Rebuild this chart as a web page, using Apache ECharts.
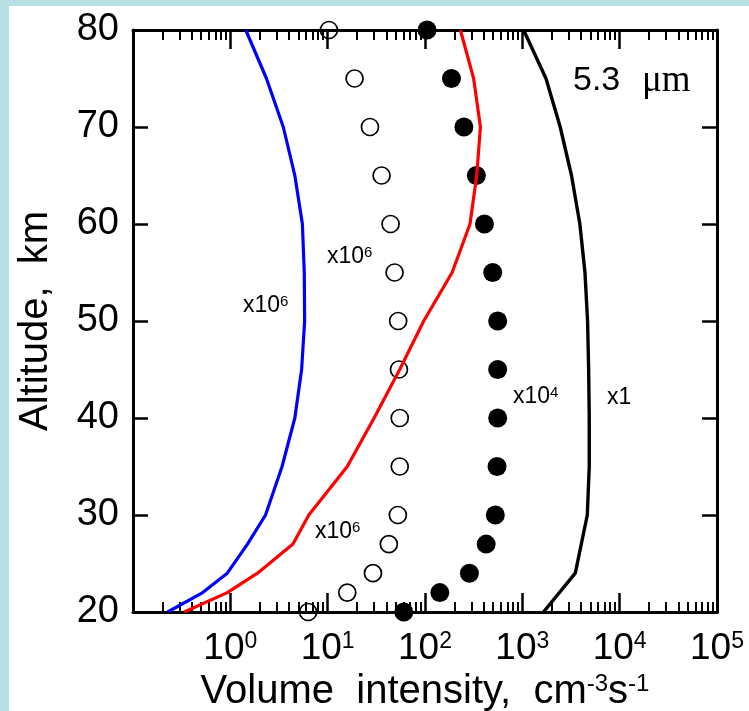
<!DOCTYPE html>
<html><head><meta charset="utf-8">
<script src="https://cdn.jsdelivr.net/npm/echarts@6/dist/echarts.min.js"></script>
<style>html,body{margin:0;padding:0;background:#fff}#c{width:749px;height:711px}</style>
</head><body><div id="c"></div>
<script>
// ---- data (altitude km, volume intensity cm^-3 s^-1) ----
const curveAlts   = [80, 75, 70, 65, 60, 55, 50, 45, 40, 35, 30, 27, 24, 22, 20];
const blueVals    = [1.44, 2.35, 3.5, 4.6, 5.5, 5.75, 5.8, 5.4, 4.6, 3.4, 2.3, 1.5, 0.93, 0.52, 0.227];
const redVals     = [231, 316, 371, 340, 290, 190, 97, 55, 30, 15.9, 6.4, 4.4, 1.9, 0.93, 0.336];
const blackAlts   = [80, 75, 70, 65, 60, 55, 50, 45, 40, 35, 30, 24, 20];
const blackVals   = [1030, 1750, 2450, 3200, 3900, 4400, 4680, 4800, 4870, 4870, 4650, 3500, 1650];
const pointAlts   = [80, 75, 70, 65, 60, 55, 50, 45, 40, 35, 30, 27, 24, 22, 20];
const openVals    = [10.3, 18.9, 27.2, 35.8, 44.3, 48.7, 53, 54, 55, 55, 52.6, 42.5, 29.2, 15.9, 6.3];
const filledVals  = [105, 187, 251, 337, 408, 496, 558, 558, 558, 550, 528, 425, 286, 142, 60.6];
const xLabelExps  = [0, 1, 2, 3, 4, 5];
const xMajorExps  = [-1, 0, 1, 2, 3, 4, 5];

const minorLog = [];
for (let d = -1; d < 5; d++) for (let m = 2; m <= 9; m++) minorLog.push(d + Math.log10(m));

const FONT = '"Liberation Sans", Arial, sans-serif';
const SERIF = '"Liberation Serif", "Times New Roman", serif';
const lineStyleAxis = {color: '#000', width: 3};
const tickMajor = {color: '#000', width: 2.5};
const tickMinor = {color: '#000', width: 2};

const pairs = (vals, alts) => vals.map((v, i) => [v, alts[i]]);

function decoAxis(position, ticks, len, showLine) {
  return {
    type: 'value', min: -1, max: 5, position: position,
    axisLine: {show: showLine, onZero: false, lineStyle: lineStyleAxis},
    axisTick: {inside: true, length: len, customValues: ticks, lineStyle: len > 12 ? tickMajor : tickMinor},
    axisLabel: {show: false}, splitLine: {show: false}
  };
}

const bottomMajor = decoAxis('bottom', xMajorExps, 19, true);
bottomMajor.axisLabel = {
  show: true, customValues: xLabelExps, margin: 18,
  formatter: v => '{b|10}{s|' + v + '}',
  rich: {
    b: {fontSize: 37, fontFamily: FONT, color: '#000'},
    s: {fontSize: 23, fontFamily: FONT, color: '#000', verticalAlign: 'top'}
  }
};
bottomMajor.name = '{a|Volume  intensity,  cm}{s|-3}{a|s}{s|-1}';
bottomMajor.nameLocation = 'middle';
bottomMajor.nameGap = 57;
bottomMajor.nameTextStyle = {
  rich: {
    a: {fontSize: 40, fontFamily: FONT, color: '#000'},
    s: {fontSize: 24, fontFamily: FONT, color: '#000', verticalAlign: 'top'}
  }
};

const chart = echarts.init(document.getElementById('c'));
chart.setOption({
  animation: false,
  backgroundColor: '#fff',
  grid: {left: 133, right: 32, top: 30, bottom: 99, containLabel: false, outerBoundsMode: 'none'},
  xAxis: [
    {type: 'log', logBase: 10, min: 0.1, max: 1e5, show: false},
    bottomMajor,
    decoAxis('bottom', minorLog, 10, false),
    decoAxis('top', xMajorExps, 19, true),
    decoAxis('top', minorLog, 10, false)
  ],
  yAxis: [
    {type: 'value', min: 20, max: 80, interval: 10, position: 'left',
     axisLine: {onZero: false, lineStyle: lineStyleAxis},
     axisTick: {inside: true, length: 15, lineStyle: tickMajor},
     axisLabel: {fontSize: 38, fontFamily: FONT, color: '#000', margin: 14},
     splitLine: {show: false},
     name: 'Altitude,  km', nameLocation: 'middle', nameRotate: 90, nameGap: 77,
     nameTextStyle: {fontSize: 40, fontFamily: FONT, color: '#000'}},
    {type: 'value', min: 20, max: 80, interval: 10, position: 'right',
     axisLine: {onZero: false, lineStyle: lineStyleAxis},
     axisTick: {inside: true, length: 15, lineStyle: tickMajor},
     axisLabel: {show: false}, splitLine: {show: false}}
  ],
  series: [
    {type: 'scatter', xAxisIndex: 0, yAxisIndex: 0, data: pairs(openVals, pointAlts),
     symbol: 'circle', symbolSize: 17, clip: false, silent: true,
     itemStyle: {color: 'rgba(255,255,255,0)', borderColor: '#000', borderWidth: 1.7, opacity: 1}},
    {type: 'scatter', xAxisIndex: 0, yAxisIndex: 0, data: pairs(filledVals, pointAlts),
     symbol: 'circle', symbolSize: 19, clip: false, silent: true,
     itemStyle: {color: '#000', opacity: 1}},
    {type: 'line', xAxisIndex: 0, yAxisIndex: 0, data: pairs(blueVals, curveAlts),
     showSymbol: false, silent: true, lineStyle: {color: '#0000ff', width: 3.2}},
    {type: 'line', xAxisIndex: 0, yAxisIndex: 0, data: pairs(redVals, curveAlts),
     showSymbol: false, silent: true, lineStyle: {color: '#ff0000', width: 3.2}},
    {type: 'line', xAxisIndex: 0, yAxisIndex: 0, data: pairs(blackVals, blackAlts),
     showSymbol: false, silent: true, lineStyle: {color: '#000', width: 3.4}}
  ],
  graphic: [
    {type: 'rect', silent: true, shape: {x: 0, y: 0, width: 9, height: 711}, style: {fill: '#b8dfe3'}},
    {type: 'rect', silent: true, shape: {x: 0, y: 0, width: 749, height: 6}, style: {fill: '#b8dfe3'}},
    ...[[243, 306, '6'], [327, 257, '6'], [315, 532, '6'], [513, 397, '4']].map(p => ({
      type: 'text', x: p[0], y: p[1], silent: true,
      style: {text: '{a|x10}{s|' + p[2] + '}', verticalAlign: 'middle', align: 'left',
        rich: {a: {fontSize: 23, fontFamily: FONT, fill: '#000'},
               s: {fontSize: 15, fontFamily: FONT, fill: '#000', verticalAlign: 'top'}}}
    })),
    {type: 'text', x: 607, y: 398, silent: true,
     style: {text: 'x1', fontSize: 23, fontFamily: FONT, fill: '#000', verticalAlign: 'middle'}},
    {type: 'text', x: 573, y: 81, silent: true,
     style: {text: '5.3', fontSize: 34, fontFamily: FONT, fill: '#000', verticalAlign: 'middle'}},
    {type: 'text', x: 642, y: 81, silent: true,
     style: {text: 'μm', fontSize: 37, fontFamily: SERIF, fill: '#000', verticalAlign: 'middle'}}
  ]
});
</script>
</body></html>
